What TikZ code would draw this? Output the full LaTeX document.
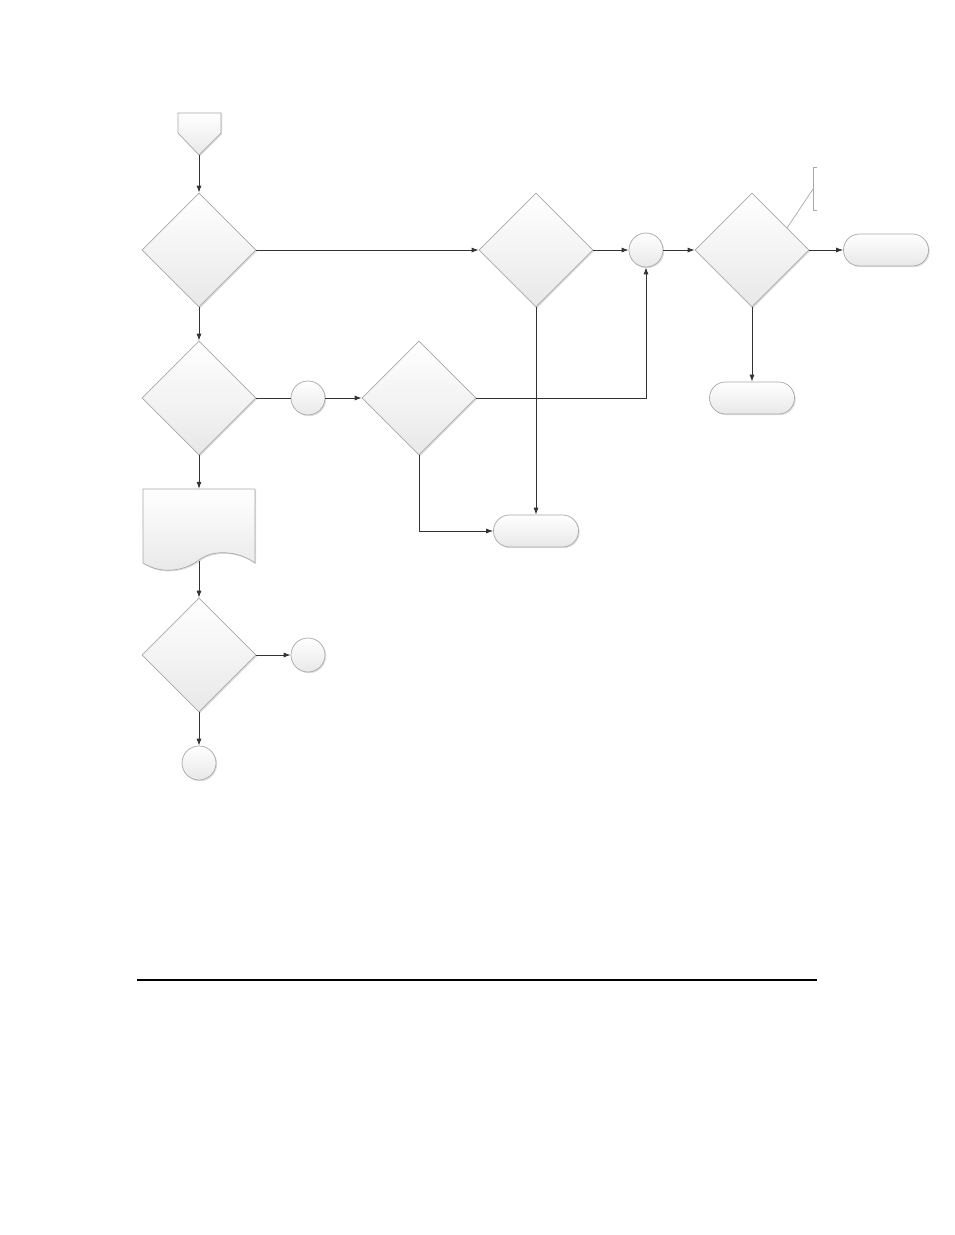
\documentclass[tikz,border=0pt]{standalone}
\usetikzlibrary{shapes.geometric,arrows.meta,shadows}
\definecolor{edgegray}{HTML}{A8A8A8}
\definecolor{linegray}{HTML}{333333}
\begin{document}
\begin{tikzpicture}[x=1pt,y=-1pt,
  shapebase/.style={draw=edgegray,line width=0.7pt,top color=white,bottom color=black!9,
    drop shadow={shadow xshift=1.2pt,shadow yshift=-1.2pt,fill=black!25,opacity=0.5}},
  decision/.style={shapebase,diamond,aspect=1,minimum width=114pt,minimum height=114pt,inner sep=0pt},
  conn/.style={shapebase,circle,minimum size=34pt,inner sep=0pt},
  term/.style={shapebase,rectangle,rounded corners=16pt,minimum width=85pt,minimum height=32pt,inner sep=0pt},
  flow/.style={draw=linegray,line width=0.8pt,-{Latex[length=7pt,width=5pt]}},
  plain/.style={draw=linegray,line width=0.8pt},
  note/.style={draw=edgegray,line width=0.7pt}
]
\useasboundingbox (0,0) rectangle (954,1235);

% off-page connector
\path[shapebase] (178,113) -- (221,113) -- (221,133) -- (199,155) -- (178,133) -- cycle;
\coordinate (offtip) at (199,155);

% nodes
\node[decision] (d1) at (199,250) {};
\node[decision] (d2) at (199,398) {};
\node[decision] (d3) at (199,655) {};
\node[decision] (d4) at (419,398) {};
\node[decision] (d5) at (536,250) {};
\node[decision] (d6) at (752,250) {};

\node[conn] (c1) at (308,398) {};
\node[conn] (c2) at (646,250) {};
\node[conn] (c3) at (308,655) {};
\node[conn] (c4) at (199,763) {};

\node[term] (t1) at (536,531) {};
\node[term] (t2) at (886,250) {};
\node[term] (t3) at (752,398) {};

% document shape
\node[minimum width=112pt,minimum height=74pt,inner sep=0pt] (doc) at (199,526) {};
\path[shapebase] (143,489) -- (255,489) -- (255,563)
  .. controls (240,552) and (215,548) .. (199,560)
  .. controls (183,572) and (160,574) .. (143,563) -- cycle;
\coordinate (docbot) at (199,561);

% annotation bracket
\draw[note] (817,167) -- (813,167) -- (813,210) -- (817,210);
\coordinate (notept) at (813,189);
\draw[note] (notept) -- (787,228);

% connectors
\draw[flow] (offtip) -- (d1.north);
\draw[flow] (d1.south) -- (d2.north);
\draw[flow] (d2.south) -- (doc.north);
\draw[flow] (docbot) -- (d3.north);
\draw[flow] (d3.east) -- (c3.west);
\draw[flow] (d3.south) -- (c4.north);
\draw[plain] (d2.east) -- (c1.west);
\draw[flow] (c1.east) -- (d4.west);
\draw[flow] (d1.east) -- (d5.west);
\draw[flow] (d5.east) -- (c2.west);
\draw[flow] (c2.east) -- (d6.west);
\draw[flow] (d6.east) -- (t2.west);
\draw[flow] (d6.south) -- (t3.north);
\draw[flow] (d4.east) -| (c2.south);
\draw[flow] (d5.south) -- (t1.north);
\draw[flow] (d4.south) |- (t1.west);

% rule line
\coordinate (ruleL) at (137,980);
\coordinate (ruleR) at (817,980);
\draw[black,line width=1.2pt] (ruleL) -- (ruleR);
\end{tikzpicture}
\end{document}
